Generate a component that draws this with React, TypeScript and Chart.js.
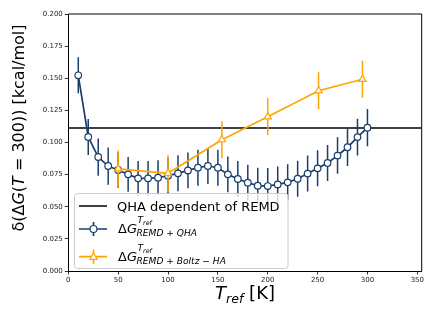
import React, { useEffect, useRef } from "react";
import { Chart, registerables } from "chart.js";

Chart.register(...registerables);

// ---- data ----
const blueT = [10, 20, 30, 40, 50, 60, 70, 80, 90, 100, 110, 120, 130, 140, 150, 160, 170, 180, 190, 200, 210, 220, 230, 240, 250, 260, 270, 280, 290, 300];
const blueY = [0.1523, 0.1043, 0.0887, 0.0817, 0.0786, 0.0752, 0.0721, 0.0721, 0.0726, 0.0742, 0.076, 0.0783, 0.0804, 0.0817, 0.0804, 0.0752, 0.0716, 0.0687, 0.0664, 0.0661, 0.0674, 0.069, 0.0718, 0.0758, 0.0799, 0.0841, 0.0898, 0.0963, 0.1042, 0.1115];
const blueErr = [0.014, 0.014, 0.0145, 0.0145, 0.014, 0.0135, 0.0135, 0.0135, 0.0135, 0.0138, 0.014, 0.014, 0.014, 0.014, 0.014, 0.014, 0.014, 0.014, 0.014, 0.014, 0.014, 0.014, 0.014, 0.014, 0.014, 0.014, 0.0142, 0.0145, 0.0143, 0.0145];
const orangeT = [50, 100, 154, 200, 251, 295];
const orangeY = [0.0795, 0.076, 0.1022, 0.12, 0.1403, 0.1492];
const orangeErr = [0.0145, 0.0145, 0.0144, 0.0144, 0.0144, 0.0144];
const qhaLevel = 0.1112;
const xTicks = [0, 50, 100, 150, 200, 250, 300, 350];
const yTicks = [0, 0.025, 0.05, 0.075, 0.1, 0.125, 0.15, 0.175, 0.2];
const xRange = [0, 354.4];
const yRange = [0, 0.2];
const legendLabels = ["QHA dependent of REMD", "REMD + QHA", "REMD + Boltz \u2212 HA"];

const BLUE = "#1a3e6c";
const ORANGE = "#ffa500";
const FAMILY = "'DejaVu Sans', sans-serif";

type Run = { t: string; s: number; i?: boolean; dy?: number };

function drawRuns(ctx: CanvasRenderingContext2D, x: number, y: number, runs: Run[]) {
  let cx = x;
  for (const r of runs) {
    ctx.font = `${r.i ? "italic " : ""}${r.s}px ${FAMILY}`;
    ctx.fillText(r.t, cx, y + (r.dy || 0));
    cx += ctx.measureText(r.t).width;
  }
  return cx;
}
function measureRuns(ctx: CanvasRenderingContext2D, runs: Run[]) {
  let w = 0;
  for (const r of runs) {
    ctx.font = `${r.i ? "italic " : ""}${r.s}px ${FAMILY}`;
    w += ctx.measureText(r.t).width;
  }
  return w;
}

function drawMathLabel(ctx: CanvasRenderingContext2D, x: number, y: number, sub: string) {
  ctx.font = `13px ${FAMILY}`;
  ctx.fillText("\u0394", x, y);
  let cx = x + ctx.measureText("\u0394").width;
  ctx.font = `italic 13px ${FAMILY}`;
  ctx.fillText("G", cx, y);
  cx += ctx.measureText("G").width;
  drawRuns(ctx, cx + 0.5, y, [
    { t: "T", s: 9.1, i: true, dy: -9.5 },
    { t: "ref", s: 6.4, i: true, dy: -8 },
  ]);
  drawRuns(ctx, cx - 0.5, y, [{ t: sub, s: 9.1, i: true, dy: 3 }]);
}

function triangle(ctx: CanvasRenderingContext2D, cx: number, cy: number, r: number) {
  ctx.beginPath();
  ctx.moveTo(cx, cy - r);
  ctx.lineTo(cx + r * 0.866, cy + r * 0.5);
  ctx.lineTo(cx - r * 0.866, cy + r * 0.5);
  ctx.closePath();
}

const errorBarPlugin = {
  id: "errorBars",
  beforeDatasetDraw(chart: any, args: any) {
    const ds = chart.data.datasets[args.index];
    const errs: number[] | undefined = ds.errs;
    if (!errs) return;
    const { ctx, scales, chartArea } = chart;
    ctx.save();
    ctx.beginPath();
    ctx.rect(chartArea.left, chartArea.top, chartArea.right - chartArea.left, chartArea.bottom - chartArea.top);
    ctx.clip();
    ctx.strokeStyle = ds.borderColor;
    ctx.lineWidth = 1.5;
    ds.data.forEach((p: any, i: number) => {
      const px = scales.x.getPixelForValue(p.x);
      ctx.beginPath();
      ctx.moveTo(px, scales.y.getPixelForValue(p.y - errs[i]));
      ctx.lineTo(px, scales.y.getPixelForValue(p.y + errs[i]));
      ctx.stroke();
    });
    ctx.restore();
  },
};

const decorPlugin = {
  id: "decor",
  afterDraw(chart: any) {
    const { ctx, chartArea } = chart;
    ctx.save();
    // spines top & right
    ctx.strokeStyle = "#000";
    ctx.lineWidth = 1;
    ctx.beginPath();
    ctx.moveTo(chartArea.left, chartArea.top);
    ctx.lineTo(chartArea.right, chartArea.top);
    ctx.lineTo(chartArea.right, chartArea.bottom);
    ctx.stroke();

    ctx.fillStyle = "#000";
    ctx.textBaseline = "alphabetic";
    // x label
    const xRuns: Run[] = [
      { t: "T", s: 18, i: true },
      { t: "ref", s: 12.6, i: true, dy: 4 },
      { t: " [K]", s: 18 },
    ];
    const xw = measureRuns(ctx, xRuns);
    const xc = (chartArea.left + chartArea.right) / 2;
    drawRuns(ctx, xc - xw / 2, 299, xRuns);

    // y label
    const yRuns: Run[] = [
      { t: "\u03b4(\u0394", s: 16 },
      { t: "G", s: 16, i: true },
      { t: "(", s: 16 },
      { t: "T", s: 16, i: true },
      { t: " = 300)) [kcal/mol]", s: 16 },
    ];
    const yw = measureRuns(ctx, yRuns);
    ctx.save();
    ctx.translate(24, 128);
    ctx.rotate(-Math.PI / 2);
    drawRuns(ctx, -yw / 2, 0, yRuns);
    ctx.restore();

    // legend box
    const bx = 74.5, by = 193.5, bw = 213.5, bh = 75, rad = 3;
    ctx.beginPath();
    ctx.moveTo(bx + rad, by);
    ctx.arcTo(bx + bw, by, bx + bw, by + bh, rad);
    ctx.arcTo(bx + bw, by + bh, bx, by + bh, rad);
    ctx.arcTo(bx, by + bh, bx, by, rad);
    ctx.arcTo(bx, by, bx + bw, by, rad);
    ctx.closePath();
    ctx.fillStyle = "rgba(255,255,255,0.8)";
    ctx.fill();
    ctx.strokeStyle = "#cccccc";
    ctx.lineWidth = 1;
    ctx.stroke();

    // row 1
    ctx.strokeStyle = "#000";
    ctx.lineWidth = 1.5;
    ctx.beginPath();
    ctx.moveTo(79, 206);
    ctx.lineTo(107, 206);
    ctx.stroke();
    ctx.fillStyle = "#000";
    ctx.font = `13px ${FAMILY}`;
    ctx.fillText(legendLabels[0], 117, 210.5);

    // row 2
    const r2 = 229;
    ctx.strokeStyle = BLUE;
    ctx.lineWidth = 1.7;
    ctx.beginPath();
    ctx.moveTo(79, r2);
    ctx.lineTo(107, r2);
    ctx.moveTo(93.5, r2 - 7);
    ctx.lineTo(93.5, r2 + 7);
    ctx.stroke();
    ctx.beginPath();
    ctx.arc(93.5, r2, 3.5, 0, Math.PI * 2);
    ctx.fillStyle = "#fff";
    ctx.fill();
    ctx.lineWidth = 1.2;
    ctx.stroke();
    ctx.fillStyle = "#000";
    drawMathLabel(ctx, 118, 232.7, legendLabels[1]);

    // row 3
    const r3 = 256.7;
    ctx.strokeStyle = ORANGE;
    ctx.lineWidth = 1.7;
    ctx.beginPath();
    ctx.moveTo(79, r3);
    ctx.lineTo(107, r3);
    ctx.moveTo(93.5, r3 - 7);
    ctx.lineTo(93.5, r3 + 7);
    ctx.stroke();
    triangle(ctx, 93.5, r3 + 0.5, 4.2);
    ctx.fillStyle = "#fff";
    ctx.fill();
    ctx.lineWidth = 1.2;
    ctx.stroke();
    ctx.fillStyle = "#000";
    drawMathLabel(ctx, 118, 260.7, legendLabels[2]);

    ctx.restore();
  },
};

export default function App() {
  const ref = useRef<HTMLCanvasElement>(null);
  useEffect(() => {
    if (!ref.current) return;
    const chart = new Chart(ref.current, {
      type: "line",
      data: {
        datasets: [
          {
            label: "orange",
            data: orangeT.map((t, i) => ({ x: t, y: orangeY[i] })),
            errs: orangeErr,
            borderColor: ORANGE,
            backgroundColor: "#fff",
            borderWidth: 1.7,
            pointStyle: "triangle",
            pointRadius: 4.2,
            pointBorderWidth: 1.2,
            pointBackgroundColor: "#fff",
            pointBorderColor: ORANGE,
            order: 1,
          } as any,
          {
            label: "blue",
            data: blueT.map((t, i) => ({ x: t, y: blueY[i] })),
            errs: blueErr,
            borderColor: BLUE,
            backgroundColor: "#fff",
            borderWidth: 1.7,
            pointStyle: "circle",
            pointRadius: 3.3,
            pointBorderWidth: 1.2,
            pointBackgroundColor: "#fff",
            pointBorderColor: BLUE,
            order: 2,
          } as any,
          {
            label: "qha",
            data: [
              { x: xRange[0], y: qhaLevel },
              { x: xRange[1], y: qhaLevel },
            ],
            borderColor: "#000",
            borderWidth: 1.5,
            pointRadius: 0,
            order: 3,
          },
        ],
      },
      options: {
        animation: false,
        responsive: false,
        devicePixelRatio: 1,
        layout: { padding: { left: 0, top: 14, right: 14.3, bottom: 0 } },
        plugins: { legend: { display: false }, tooltip: { enabled: false } },
        scales: {
          x: {
            type: "linear",
            min: xRange[0],
            max: xRange[1],
            afterBuildTicks: (s: any) => {
              s.ticks = xTicks.map((v) => ({ value: v }));
            },
            afterFit: (s: any) => {
              s.height = 56;
            },
            ticks: {
              font: { family: FAMILY, size: 7 },
              color: "#222",
              padding: 1.5,
              maxRotation: 0,
              autoSkip: false,
            },
            grid: { drawOnChartArea: false, drawTicks: true, tickLength: 3.5, color: "#000", lineWidth: 0.8 },
            border: { display: true, color: "#000", width: 1 },
          },
          y: {
            type: "linear",
            min: yRange[0],
            max: yRange[1],
            afterBuildTicks: (s: any) => {
              s.ticks = yTicks.map((v) => ({ value: v }));
            },
            afterFit: (s: any) => {
              s.width = 68.3;
            },
            ticks: {
              font: { family: FAMILY, size: 7 },
              color: "#222",
              padding: 2,
              autoSkip: false,
              callback: (v: any) => Number(v).toFixed(3),
            },
            grid: { drawOnChartArea: false, drawTicks: true, tickLength: 3.5, color: "#000", lineWidth: 0.8 },
            border: { display: true, color: "#000", width: 1 },
          },
        },
      },
      plugins: [errorBarPlugin, decorPlugin],
    });
    return () => chart.destroy();
  }, []);
  return (
    <div style={{ position: "absolute", left: 0, top: 0, width: 436, height: 327, background: "#fff" }}>
      <canvas ref={ref} width={436} height={327} />
    </div>
  );
}
